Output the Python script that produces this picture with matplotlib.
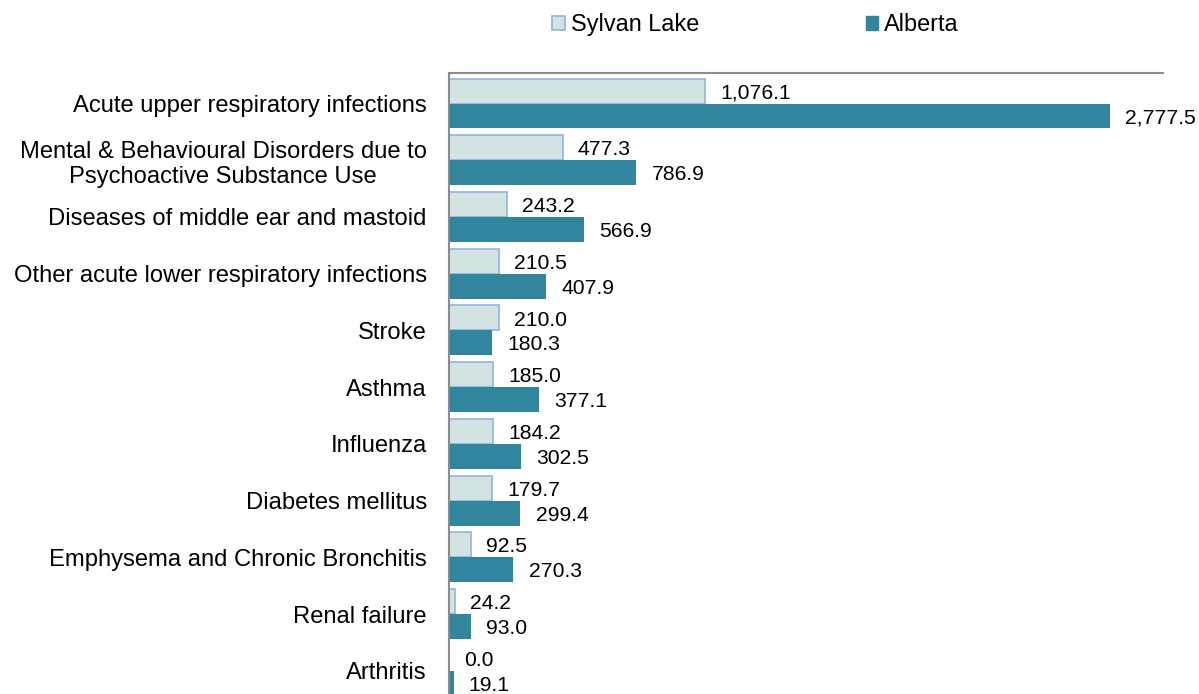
import matplotlib.pyplot as plt
import numpy as np
from matplotlib.patches import Patch

# data
categories = [
    "Acute upper respiratory infections",
    "Mental & Behavioural Disorders due to\nPsychoactive Substance Use",
    "Diseases of middle ear and mastoid",
    "Other acute lower respiratory infections",
    "Stroke",
    "Asthma",
    "Influenza",
    "Diabetes mellitus",
    "Emphysema and Chronic Bronchitis",
    "Renal failure",
    "Arthritis",
]
sylvan_lake = [1076.1, 477.3, 243.2, 210.5, 210.0, 185.0, 184.2, 179.7, 92.5, 24.2, 0.0]
alberta = [2777.5, 786.9, 566.9, 407.9, 180.3, 377.1, 302.5, 299.4, 270.3, 93.0, 19.1]
series_names = ["Sylvan Lake", "Alberta"]

SYLVAN_FILL = "#d2e3e1"
SYLVAN_EDGE = "#8eb4e3"
ALBERTA_FILL = "#31859c"
AXIS_GRAY = "#8c8c8c"

plt.rcParams["font.family"] = ["Liberation Sans", "DejaVu Sans"]

fig = plt.figure(figsize=(11.99, 6.94), dpi=100)
ax = fig.add_axes([449 / 1199, 0.0, (1163 - 449) / 1199, 1 - 73 / 694])

y = np.arange(len(categories))
bar_h = 0.44
ax.barh(y - bar_h / 2, sylvan_lake, height=bar_h, color=SYLVAN_FILL,
        edgecolor=SYLVAN_EDGE, linewidth=1.2)
ax.barh(y + bar_h / 2, alberta, height=bar_h, color=ALBERTA_FILL, linewidth=0)

for i in range(len(categories)):
    ax.annotate(f"{sylvan_lake[i]:,.1f}", (sylvan_lake[i], y[i] - bar_h / 2),
                xytext=(11, -1.5), textcoords="offset points",
                ha="left", va="center", fontsize=15.2, color="black")
    ax.annotate(f"{alberta[i]:,.1f}", (alberta[i], y[i] + bar_h / 2),
                xytext=(11, -1.5), textcoords="offset points",
                ha="left", va="center", fontsize=15.2, color="black")

ax.set_xlim(0, 3000)
ax.set_ylim(10.41, -0.538)
ax.set_xticks([])
ax.set_yticks(y)
ax.set_yticklabels(categories, fontsize=17.15)
for lbl in ax.get_yticklabels():
    lbl.set_multialignment("center")
ax.tick_params(axis="y", length=0, pad=16)

for side in ["bottom", "right"]:
    ax.spines[side].set_visible(False)
for side in ["top", "left"]:
    ax.spines[side].set_color(AXIS_GRAY)
    ax.spines[side].set_linewidth(1.5)

handles = [
    Patch(facecolor=SYLVAN_FILL, edgecolor=SYLVAN_EDGE, linewidth=1.2),
    Patch(facecolor=ALBERTA_FILL, edgecolor=ALBERTA_FILL),
]
fig.legend(handles, series_names, loc="center", bbox_to_anchor=(0.63, 0.964),
           ncol=2, frameon=False, fontsize=16.9, handlelength=0.55,
           handleheight=0.55, handletextpad=0.25, columnspacing=7.1)

fig.savefig("out.png", dpi=100)
